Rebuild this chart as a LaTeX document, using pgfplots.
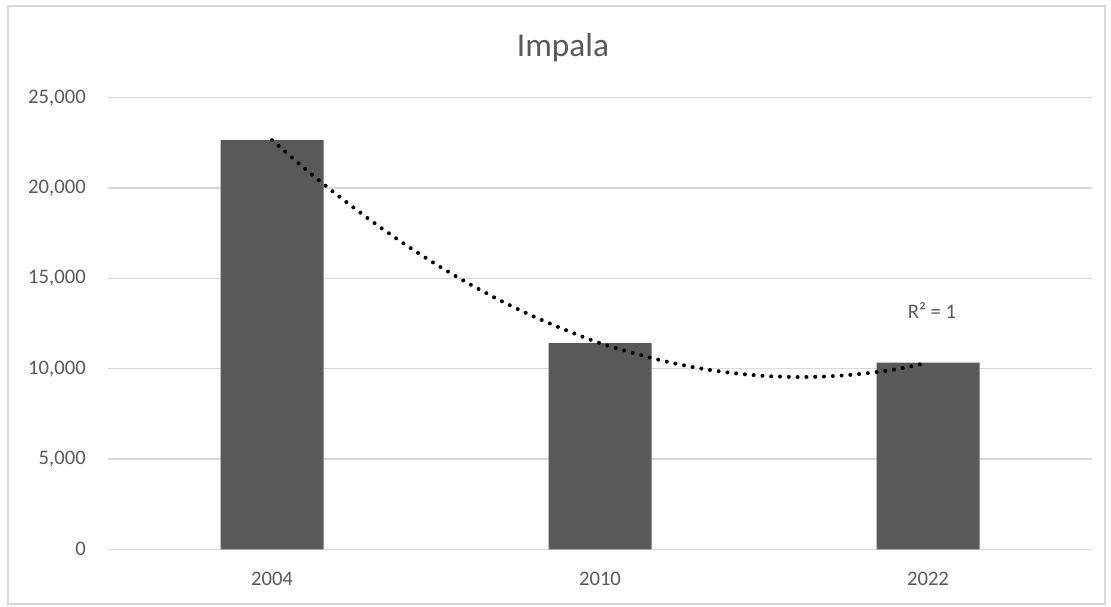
\documentclass[border=0pt]{standalone}
\usepackage{pgfplots}
\pgfplotsset{compat=1.18}
\usepackage{fontspec}
\setmainfont{Carlito}
\definecolor{txtc}{HTML}{595959}
\definecolor{gridc}{HTML}{D9D9D9}
\definecolor{barc}{HTML}{595959}
\begin{document}
\begin{tikzpicture}[x=0.75pt,y=0.75pt]
\path[use as bounding box] (0,0) rectangle (1111,607);
\draw[gridc, line width=0.9pt] (8,3) rectangle (1105,601);
\node[txtc, font=\fontsize{25}{30}\selectfont] at (563,559) {Impala};
\begin{axis}[
  at={(81pt,43.3pt)}, anchor=south west,
  scale only axis, width=738pt, height=338.7pt,
  xmin=-0.5, xmax=2.5, ymin=0, ymax=25000,
  xtick={0,1,2}, xticklabels={2004,2010,2022},
  ytick={0,5000,10000,15000,20000,25000},
  scaled y ticks=false,
  /pgf/number format/.cd, 1000 sep={,}, assume math mode=true, /pgfplots/.cd,
  axis line style={draw=none}, tick style={draw=none},
  xmajorgrids=false, ymajorgrids=true,
  major grid style={draw=gridc, line width=0.9pt},
  ticklabel style={txtc, font=\fontsize{15.5}{18}\selectfont, inner sep=0pt},
  yticklabel style={anchor=east, xshift=-16.5pt},
  xticklabel style={anchor=north, yshift=-16.9pt},
  clip=false,
]
\addplot[ybar, bar width=77.25pt, fill=barc, draw=none] coordinates {(0,22650) (1,11410) (2,10330)};
\addplot[black, line width=3pt, line cap=round, dash pattern=on 0pt off 6.6pt, smooth] coordinates {
(0,22650) (0.1,21071) (0.2,19594) (0.3,18219) (0.4,16946) (0.5,15774)
(0.6,14704) (0.7,13735) (0.8,12868) (0.9,12103) (1.0,11410)
(1.1,10868) (1.2,10398) (1.3,10030) (1.4,9764) (1.5,9599)
(1.6,9536) (1.7,9575) (1.8,9716) (1.9,9959) (2.0,10330)};
\node[txtc, font=\fontsize{15.5}{18}\selectfont] at (axis cs:2.012,13190) {R² = 1};
\end{axis}
\end{tikzpicture}
\end{document}
